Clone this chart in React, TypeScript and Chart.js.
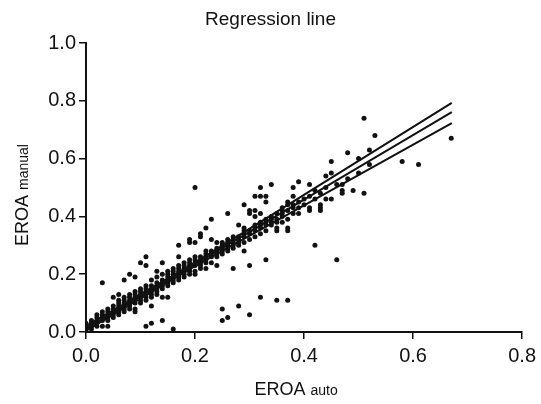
import React, { useEffect, useRef } from "react";
import { Chart, registerables } from "chart.js";

Chart.register(...registerables);

const titleText = "Regression line";
const xTitleMain = "EROA";
const xTitleSub = "auto";
const yTitleMain = "EROA";
const yTitleSub = "manual";

const xTicks = [0, 0.2, 0.4, 0.6, 0.8];
const yTicks = [0, 0.2, 0.4, 0.6, 0.8, 1.0];

// scatter points grouped by x column (x measured in 0.01 steps)
const columnX = [
  0.0, 0.01, 0.02, 0.03, 0.04, 0.05, 0.06, 0.07, 0.08, 0.09,
  0.1, 0.11, 0.12, 0.13, 0.14, 0.15, 0.16, 0.17, 0.18, 0.19,
  0.2, 0.21, 0.22, 0.23, 0.24, 0.25, 0.26, 0.27, 0.28, 0.29,
  0.3, 0.31, 0.32, 0.33, 0.34, 0.35, 0.36, 0.37, 0.38, 0.39,
  0.4, 0.41, 0.42, 0.43, 0.44, 0.45, 0.46, 0.47, 0.48, 0.49,
  0.5, 0.51, 0.52, 0.53, 0.58, 0.61, 0.67,
];
const columnY = [
  [0.0, 0.01, 0.02, 0.03],
  [0.01, 0.02, 0.03, 0.04],
  [0.02, 0.03, 0.04, 0.05, 0.06],
  [0.02, 0.04, 0.05, 0.06, 0.07, 0.17],
  [0.02, 0.04, 0.05, 0.06, 0.07, 0.08],
  [0.05, 0.06, 0.07, 0.08, 0.09, 0.12],
  [0.06, 0.07, 0.08, 0.09, 0.1, 0.11, 0.13],
  [0.07, 0.08, 0.09, 0.1, 0.11, 0.12, 0.18],
  [0.08, 0.09, 0.1, 0.11, 0.12, 0.13, 0.2],
  [0.07, 0.08, 0.1, 0.11, 0.12, 0.13, 0.14, 0.19],
  [0.1, 0.11, 0.12, 0.13, 0.14, 0.15, 0.24],
  [0.02, 0.11, 0.12, 0.13, 0.14, 0.15, 0.16, 0.23, 0.26],
  [0.03, 0.09, 0.12, 0.13, 0.14, 0.15, 0.16, 0.18],
  [0.13, 0.14, 0.15, 0.16, 0.17, 0.19, 0.21],
  [0.04, 0.12, 0.15, 0.16, 0.17, 0.18, 0.2, 0.24],
  [0.12, 0.16, 0.17, 0.18, 0.19, 0.2, 0.21],
  [0.01, 0.17, 0.18, 0.19, 0.2, 0.21, 0.22],
  [0.18, 0.19, 0.2, 0.21, 0.22, 0.23, 0.26, 0.3],
  [0.19, 0.2, 0.21, 0.22, 0.23, 0.24],
  [0.2, 0.21, 0.22, 0.23, 0.24, 0.25, 0.31, 0.32],
  [0.2, 0.21, 0.23, 0.24, 0.25, 0.26, 0.31, 0.5],
  [0.22, 0.23, 0.24, 0.25, 0.26, 0.33, 0.34],
  [0.22, 0.24, 0.25, 0.26, 0.27, 0.28, 0.36],
  [0.24, 0.26, 0.27, 0.28, 0.32, 0.39],
  [0.23, 0.26, 0.27, 0.28, 0.29, 0.31],
  [0.04, 0.08, 0.27, 0.28, 0.29, 0.3, 0.31],
  [0.05, 0.28, 0.29, 0.3, 0.31, 0.32, 0.41],
  [0.22, 0.29, 0.3, 0.31, 0.32, 0.33],
  [0.09, 0.3, 0.31, 0.32, 0.33, 0.37],
  [0.28, 0.31, 0.33, 0.34, 0.35, 0.36, 0.44],
  [0.06, 0.23, 0.32, 0.34, 0.35, 0.41, 0.42],
  [0.33, 0.35, 0.36, 0.37, 0.4, 0.42, 0.47],
  [0.12, 0.34, 0.36, 0.37, 0.38, 0.41, 0.47, 0.5],
  [0.25, 0.35, 0.37, 0.38, 0.39, 0.45, 0.47],
  [0.37, 0.38, 0.39, 0.4, 0.51],
  [0.11, 0.35, 0.36, 0.38, 0.39, 0.41],
  [0.38, 0.4, 0.41, 0.42, 0.43],
  [0.11, 0.35, 0.36, 0.39, 0.42, 0.44, 0.45],
  [0.41, 0.43, 0.44, 0.47, 0.5],
  [0.41, 0.43, 0.45, 0.52],
  [0.44, 0.46],
  [0.42, 0.43, 0.47, 0.51],
  [0.3, 0.46, 0.49],
  [0.42, 0.43, 0.44, 0.48],
  [0.46, 0.5, 0.54],
  [0.46, 0.55, 0.59],
  [0.25, 0.51],
  [0.48, 0.49, 0.51],
  [0.53, 0.62],
  [0.49],
  [0.55, 0.6],
  [0.48, 0.74],
  [0.58, 0.63],
  [0.68],
  [0.59],
  [0.58],
  [0.67],
];

// regression line and its confidence band
const lineX = [0, 0.2, 0.671];
const lineMid = [0.012, 0.235, 0.761];
const lineUpper = [0.02, 0.24, 0.793];
const lineLower = [0.005, 0.228, 0.723];

const FONT = "'Liberation Sans', Arial, Helvetica, sans-serif";

export default function App() {
  const ref = useRef<HTMLCanvasElement | null>(null);

  useEffect(() => {
    document.body.style.margin = "0";
    const canvas = ref.current;
    if (!canvas) return;

    const scatterData: { x: number; y: number }[] = [];
    columnX.forEach((x, i) => {
      columnY[i].forEach((y) => scatterData.push({ x, y }));
    });
    const mk = (ys: number[]) => lineX.map((x, i) => ({ x, y: ys[i] }));

    const textPlugin = {
      id: "texts",
      afterDraw(chart: any) {
        const ctx = chart.ctx as CanvasRenderingContext2D;
        const area = chart.chartArea;
        ctx.save();
        ctx.fillStyle = "#111";
        // title
        ctx.font = `19px ${FONT}`;
        ctx.textAlign = "center";
        ctx.textBaseline = "middle";
        ctx.fillText(titleText, chart.width / 2, 20);

        // x title
        const bigF = `18px ${FONT}`;
        const smallF = `14px ${FONT}`;
        ctx.font = bigF;
        const w1 = ctx.measureText(xTitleMain + " ").width;
        ctx.font = smallF;
        const w2 = ctx.measureText(xTitleSub).width;
        const cx = (area.left + area.right) / 2 - 8;
        const startX = cx - (w1 + w2) / 2;
        ctx.textAlign = "left";
        ctx.textBaseline = "alphabetic";
        ctx.font = bigF;
        ctx.fillText(xTitleMain + " ", startX, 395);
        ctx.font = smallF;
        ctx.fillText(xTitleSub, startX + w1, 395);

        // y title
        ctx.translate(28, 195);
        ctx.rotate(-Math.PI / 2);
        ctx.font = bigF;
        const v1 = ctx.measureText(yTitleMain + " ").width;
        ctx.font = smallF;
        const v2 = ctx.measureText(yTitleSub).width;
        const sy = -(v1 + v2) / 2;
        ctx.font = bigF;
        ctx.fillText(yTitleMain + " ", sy, 0);
        ctx.font = smallF;
        ctx.fillText(yTitleSub, sy + v1, 0);
        ctx.restore();
      },
    };

    const chart = new Chart(canvas, {
      type: "scatter",
      data: {
        datasets: [
          {
            type: "scatter",
            data: scatterData,
            pointRadius: 2.5,
            pointBackgroundColor: "#111",
            pointBorderWidth: 0,
            order: 2,
          },
          {
            type: "line",
            data: mk(lineUpper),
            borderColor: "#111",
            borderWidth: 2,
            pointRadius: 0,
            fill: false,
            order: 1,
          },
          {
            type: "line",
            data: mk(lineMid),
            borderColor: "#111",
            borderWidth: 2,
            pointRadius: 0,
            fill: false,
            order: 1,
          },
          {
            type: "line",
            data: mk(lineLower),
            borderColor: "#111",
            borderWidth: 2,
            pointRadius: 0,
            fill: false,
            order: 1,
          },
        ] as any,
      },
      options: {
        animation: false,
        responsive: false,
        maintainAspectRatio: false,
        layout: { padding: { top: 43, right: 18, left: 0, bottom: 0 } },
        plugins: {
          legend: { display: false },
          title: { display: false },
          tooltip: { enabled: false },
        },
        scales: {
          x: {
            type: "linear",
            min: 0,
            max: 0.8,
            afterBuildTicks: (s: any) => {
              s.ticks = xTicks.map((v) => ({ value: v }));
            },
            afterFit: (s: any) => {
              s.height = 72;
            },
            ticks: {
              color: "#111",
              font: { family: FONT, size: 20 },
              padding: 5,
              callback: (v: any) => Number(v).toFixed(1),
            },
            grid: {
              drawOnChartArea: false,
              drawTicks: true,
              tickLength: 7,
              color: "#111",
              lineWidth: 1.5,
            },
            border: { display: true, color: "#111", width: 2 },
          },
          y: {
            type: "linear",
            min: 0,
            max: 1.0,
            afterBuildTicks: (s: any) => {
              s.ticks = yTicks.map((v) => ({ value: v }));
            },
            afterFit: (s: any) => {
              s.width = 86;
            },
            ticks: {
              color: "#111",
              font: { family: FONT, size: 20 },
              padding: 3,
              callback: (v: any) => Number(v).toFixed(1),
            },
            grid: {
              drawOnChartArea: false,
              drawTicks: true,
              tickLength: 7,
              color: "#111",
              lineWidth: 1.5,
            },
            border: { display: true, color: "#111", width: 2 },
          },
        },
      },
      plugins: [textPlugin],
    });

    return () => chart.destroy();
  }, []);

  return (
    <div style={{ width: 541, height: 404, background: "#fff" }}>
      <canvas ref={ref} width={541} height={404} style={{ width: 541, height: 404, display: "block" }} />
    </div>
  );
}
